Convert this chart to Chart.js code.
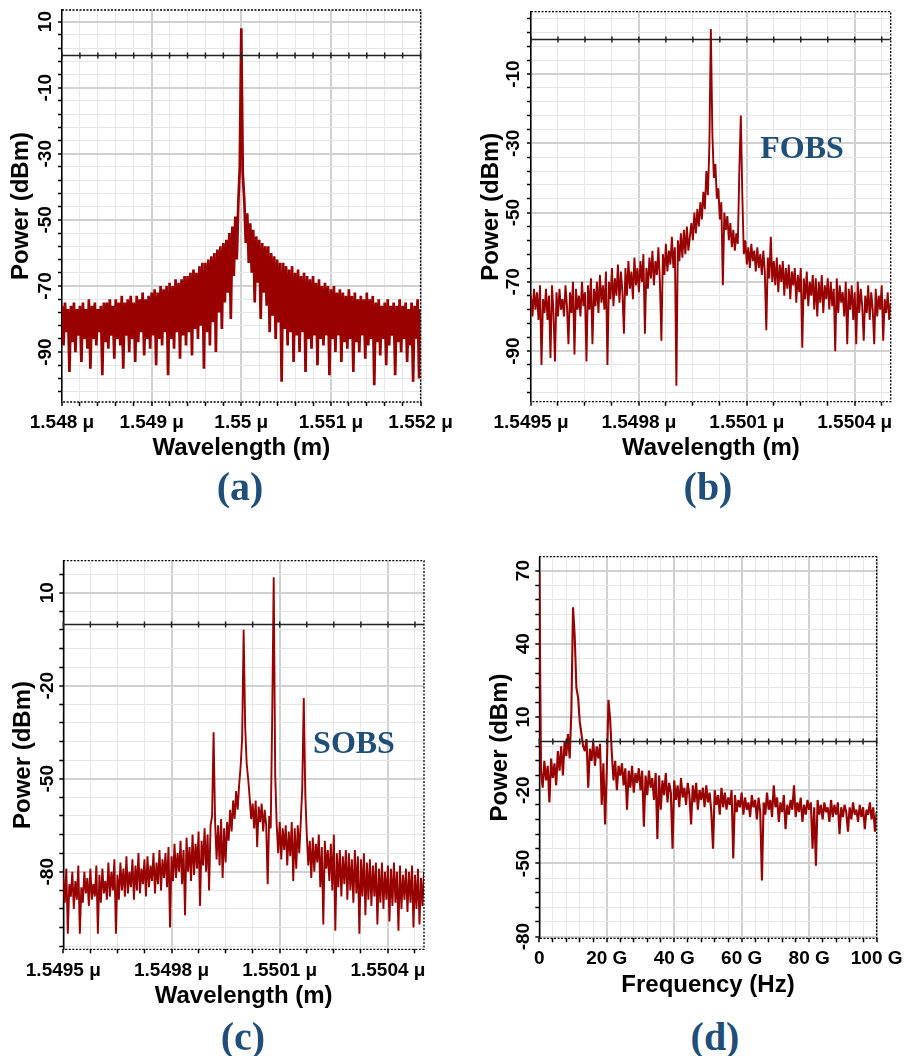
<!DOCTYPE html>
<html>
<head>
<meta charset="utf-8">
<title>Optical and RF spectra</title>
<script src="https://cdn.jsdelivr.net/npm/chart.js@4.4.1/dist/chart.umd.min.js"></script>
<style>
  html, body { margin: 0; padding: 0; background: #fff; }
  #page { position: relative; width: 909px; height: 1056px; overflow: hidden; }
  canvas { position: absolute; }
  .tag {
    position: absolute;
    transform: translate(-50%, -50%);
    font-family: "Liberation Serif", "Times New Roman", serif;
    font-weight: bold;
    color: #1f4e79;
    line-height: 1;
    white-space: nowrap;
  }
  .panel-tag { font-size: 40px; }
  .mode-tag { font-size: 32px; }
</style>
</head>
<body>
<div id="page">
  <canvas id="chartA" width="460" height="465" style="left:0;top:0"></canvas>
  <canvas id="chartB" width="449" height="465" style="left:460px;top:0"></canvas>
  <canvas id="chartC" width="460" height="475" style="left:0;top:540px"></canvas>
  <canvas id="chartD" width="449" height="465" style="left:460px;top:540px"></canvas>

  <div class="tag mode-tag" style="left:802px;top:147px">FOBS</div>
  <div class="tag mode-tag" style="left:354px;top:742px">SOBS</div>

  <div class="tag panel-tag" style="left:240px;top:487px">(a)</div>
  <div class="tag panel-tag" style="left:708px;top:487px">(b)</div>
  <div class="tag panel-tag" style="left:243px;top:1037px">(c)</div>
  <div class="tag panel-tag" style="left:715px;top:1037px">(d)</div>
</div>

<script>
// ===== SPECTRA (dBm), evenly sampled over each span =====

// (a) single laser line, 1.548 - 1.552 um
const spanA = [1.548, 1.552];
const powerA = [
  -76,-88,-75,-84,-77,-96,-76,-87,-75,-90,
  -77,-85,-76,-93,-75,-86,-77,-89,-74,-95,
  -76,-86,-75,-88,-77,-84,-76,-97,-75,-87,
  -75,-89,-74,-85,-76,-92,-74,-86,-75,-88,
  -73,-95,-75,-85,-74,-90,-73,-86,-75,-93,
  -73,-87,-74,-84,-72,-91,-74,-86,-73,-89,
  -72,-85,-71,-94,-72,-86,-70,-88,-71,-84,
  -70,-97,-69,-86,-70,-89,-68,-84,-69,-92,
  -68,-85,-67,-88,-67,-84,-66,-91,-65,-83,
  -66,-86,-64,-82,-63,-95,-63,-84,-62,-88,
  -61,-81,-60,-90,-59,-78,-58,-83,-57,-75,
  -56,-72,-54,-80,-52,-67,-49,-62,-45,-34,
  8,
  -36,-44,-57,-48,-63,-51,-66,-53,-75,-55,
  -69,-56,-80,-57,-72,-58,-76,-58,-84,-60,
  -79,-61,-86,-62,-81,-63,-99,-63,-83,-64,
  -88,-65,-84,-64,-93,-66,-85,-65,-90,-67,
  -84,-66,-96,-67,-86,-68,-89,-67,-85,-69,
  -94,-68,-86,-70,-88,-69,-85,-70,-97,-71,
  -86,-70,-90,-72,-85,-71,-93,-72,-87,-73,
  -89,-71,-86,-73,-96,-72,-87,-74,-90,-73,
  -85,-74,-92,-72,-88,-74,-86,-73,-100,-75,
  -87,-74,-91,-76,-86,-75,-94,-74,-88,-76,
  -85,-75,-97,-76,-87,-74,-90,-76,-86,-75,
  -93,-77,-88,-75,-99,-76,-86,-74,-98,-77
];

// (b) FOBS: carrier plus first-order sideband, 1.5495 - 1.5505 um
const spanB = [1.5495, 1.5505];
const powerB = [
  -74,-80,-72,-78,-73,-81,-71,-94,-75,-79,
  -72,-81,-74,-92,-71,-79,-93,-73,-80,-72,
  -78,-75,-80,-71,-77,-88,-73,-79,-70,-91,
  -72,-78,-74,-80,-70,-77,-73,-93,-71,-78,
  -69,-88,-72,-77,-70,-79,-68,-76,-71,-78,
  -67,-94,-70,-75,-66,-77,-69,-74,-65,-76,
  -67,-73,-85,-66,-74,-64,-72,-67,-75,-63,
  -71,-66,-73,-64,-70,-62,-85,-66,-72,-63,
  -69,-61,-71,-64,-68,-60,-70,-87,-62,-68,
  -59,-67,-61,-65,-57,-66,-60,-100,-58,-64,
  -56,-63,-55,-62,-54,-61,-57,-53,-58,-50,
  -56,-49,-54,-47,-52,-44,-49,-38,-45,-31,
  3,
  -27,-40,-36,-46,-43,-52,-47,-71,-50,-55,
  -51,-58,-53,-60,-55,-61,-56,-59,-38,-22,
  -45,-62,-58,-65,-60,-66,-59,-64,-61,-67,
  -60,-66,-62,-68,-61,-67,-84,-63,-69,-57,
  -70,-64,-71,-63,-73,-65,-70,-64,-74,-66,
  -72,-65,-75,-67,-71,-66,-76,-68,-73,-66,
  -89,-69,-75,-67,-77,-70,-74,-68,-78,-69,
  -80,-70,-76,-68,-79,-71,-75,-69,-78,-70,
  -77,-72,-90,-69,-79,-71,-76,-73,-80,-70,
  -88,-72,-78,-71,-81,-73,-88,-70,-79,-72,
  -77,-87,-74,-79,-71,-81,-73,-78,-88,-72,
  -80,-74,-78,-71,-87,-75,-79,-73,-81,-76
];

// (c) SOBS: carrier plus second-order sidebands, same span as (b)
const spanC = [1.5495, 1.5505];
const powerC = [
  -82,-90,-79,-100,-84,-88,-80,-92,-83,-89,
  -78,-100,-85,-90,-80,-87,-82,-91,-79,-89,
  -84,-88,-78,-100,-81,-90,-79,-87,-83,-89,
  -77,-88,-80,-86,-76,-100,-81,-89,-77,-86,
  -79,-88,-75,-87,-80,-85,-76,-89,-78,-86,
  -74,-87,-79,-84,-76,-88,-75,-85,-78,-83,
  -74,-87,-77,-84,-73,-86,-76,-82,-74,-85,
  -72,-98,-75,-83,-71,-82,-74,-80,-70,-84,
  -73,-94,-69,-80,-72,-83,-68,-81,-71,-79,
  -67,-91,-70,-78,-66,-80,-68,-86,-65,-62,
  -35,-64,-76,-65,-78,-63,-82,-66,-77,-64,
  -70,-60,-67,-57,-63,-54,-60,-52,-46,-37,
  -2,-33,-45,-50,-56,-63,-58,-66,-57,-72,
  -59,-64,-58,-67,-60,-65,-84,-62,-66,-30,
  15,-49,-65,-74,-64,-76,-66,-73,-65,-78,
  -67,-75,-64,-83,-66,-79,-65,-74,-64,-53,
  -24,-55,-68,-78,-70,-82,-69,-80,-71,-77,
  -68,-85,-72,-97,-70,-79,-73,-83,-71,-86,
  -68,-99,-74,-85,-73,-88,-75,-84,-73,-89,
  -74,-86,-76,-90,-73,-87,-75,-100,-76,-88,
  -74,-94,-77,-89,-76,-91,-78,-88,-77,-97,
  -79,-90,-77,-92,-80,-89,-78,-96,-79,-91,
  -77,-90,-80,-99,-78,-92,-81,-89,-79,-93,
  -80,-90,-78,-98,-81,-92,-79,-97,-82,-91,
  -80
];

// (d) detected RF spectrum, 0 - 100 GHz
const spanD = [0, 100];
const powerD = [
  69,-12,-19,-8,-16,-10,-25,-7,-15,-9,
  -18,-4,-12,-2,-14,0,-6,3,-7,12,
  55,43,22,18,8,3,-2,-4,1,-19,
  -3,-8,0,-10,-2,-7,-1,-26,-9,-34,
  -12,17,9,-5,-16,-8,-20,-10,-14,-9,
  -18,-11,-28,-12,-19,-10,-21,-13,-17,-11,
  -20,-12,-35,-14,-22,-12,-19,-15,-24,-13,
  -40,-14,-28,-16,-22,-13,-25,-17,-21,-44,
  -16,-24,-18,-27,-15,-23,-19,-26,-17,-22,
  -34,-18,-25,-17,-28,-20,-24,-19,-27,-18,
  -25,-21,-29,-44,-20,-26,-22,-30,-19,-27,
  -21,-28,-23,-26,-20,-48,-22,-29,-24,-27,
  -21,-30,-23,-28,-25,-31,-22,-27,-24,-32,
  -23,-29,-57,-25,-30,-21,-28,-24,-31,-18,
  -27,-23,-33,-25,-29,-22,-36,-26,-30,-24,
  -28,-18,-31,-25,-29,-23,-33,-26,-30,-24,
  -28,-25,-44,-27,-51,-24,-30,-26,-32,-25,
  -29,-27,-33,-24,-31,-26,-30,-25,-38,-27,
  -31,-26,-29,-37,-27,-32,-25,-30,-28,-33,
  -26,-31,-27,-36,-28,-30,-25,-32,-27,-37,
  -29
];

// ===== AXIS TICKS =====
const xMajorA = [1.548, 1.549, 1.55, 1.551, 1.552];
const xLabelsA = ['1.548 μ', '1.549 μ', '1.55 μ', '1.551 μ', '1.552 μ'];
const xMajorBC = [1.5495, 1.5498, 1.5501, 1.5504];
const xLabelsBC = ['1.5495 μ', '1.5498 μ', '1.5501 μ', '1.5504 μ'];
const xMajorD = [0, 20, 40, 60, 80, 100];
const xLabelsD = ['0', '20 G', '40 G', '60 G', '80 G', '100 G'];

const yMajorAB = [10, -10, -30, -50, -70, -90];
const yMajorC = [10, -20, -50, -80];
const yMajorD = [70, 40, 10, -20, -50, -80];

// ===== STYLE =====
const TRACE = '#990000';
const SANS = '"Liberation Sans", Arial, sans-serif';
const tickFont = { family: SANS, size: 19, weight: 'bold', lineHeight: 1 };
const titleFont = { family: SANS, size: 24, weight: 'bold', lineHeight: 1 };

// major ticks + minor subdivisions inside [min, max]
function tickValues(base, step, min, max) {
  const out = [];
  const k0 = Math.ceil((min - base) / step - 1e-6);
  const k1 = Math.floor((max - base) / step + 1e-6);
  for (let k = k0; k <= k1; k++) out.push(+(base + k * step).toFixed(9));
  return out;
}

// dotted top/right/bottom frame and the solid 0 dBm line with its tick marks
const frameAndZero = {
  id: 'frameAndZero',
  afterDatasetsDraw(chart) {
    const { ctx, chartArea: a, scales: { x, y } } = chart;
    ctx.save();
    ctx.strokeStyle = '#000';
    ctx.lineWidth = 1.3;
    ctx.setLineDash([2, 1.5]);
    ctx.beginPath();
    ctx.moveTo(a.left, a.top);
    ctx.lineTo(a.right, a.top);
    ctx.lineTo(a.right, a.bottom);
    ctx.lineTo(a.left, a.bottom);
    ctx.stroke();

    ctx.setLineDash([]);
    ctx.strokeStyle = '#222';
    ctx.lineWidth = 1.5;
    const y0 = Math.round(y.getPixelForValue(0)) + 0.5;
    ctx.beginPath();
    ctx.moveTo(a.left, y0);
    ctx.lineTo(a.right, y0);
    x.ticks.forEach(t => {
      const px = x.getPixelForValue(t.value);
      ctx.moveTo(px, y0 - 3);
      ctx.lineTo(px, y0 + 3);
    });
    ctx.stroke();
    ctx.restore();
  }
};

function buildChart(p) {
  const xTicks = tickValues(p.xMajor[0], p.xStep, p.xMin, p.xMax);
  const yTicks = tickValues(p.yMajor[0], p.yStep, p.yMin, p.yMax);
  const dx = (p.span[1] - p.span[0]) / (p.power.length - 1);
  const points = p.power.map((v, i) => ({ x: p.span[0] + i * dx, y: v }));

  const xIndex = v => p.xMajor.findIndex(m => Math.abs(m - v) < p.xStep * 1e-3);
  const xIsMajor = v => xIndex(v) >= 0;
  const yIsMajor = v => p.yMajor.some(m => Math.abs(m - v) < p.yStep * 1e-3);

  const gridStyle = isMajor => ({
    color: c => (c.tick && isMajor(c.tick.value)) ? '#d0d0d0' : '#e6e6e6',
    lineWidth: c => (c.tick && isMajor(c.tick.value)) ? 2 : 1,
    drawTicks: true,
    tickLength: 4,
    tickColor: '#000',
    tickWidth: 1.5
  });

  return new Chart(document.getElementById(p.id), {
    type: 'line',
    data: {
      datasets: [{
        data: points,
        borderColor: TRACE,
        borderWidth: p.lineWidth,
        borderJoinStyle: 'bevel',
        pointRadius: 0,
        tension: 0,
        fill: false
      }]
    },
    options: {
      responsive: false,
      animation: false,
      devicePixelRatio: 1,
      layout: { padding: { top: p.box.top, right: p.box.right, left: 0, bottom: 0 } },
      plugins: { legend: { display: false }, tooltip: { enabled: false } },
      scales: {
        x: {
          type: 'linear',
          min: p.xMin,
          max: p.xMax,
          afterBuildTicks: s => { s.ticks = xTicks.map(v => ({ value: v })); },
          afterFit: s => { s.height = p.box.xHeight; },
          ticks: {
            autoSkip: false,
            maxRotation: 0,
            padding: p.box.xTickPad,
            color: '#000',
            font: tickFont,
            callback: v => { const k = xIndex(v); return k >= 0 ? p.xLabels[k] : ''; }
          },
          grid: gridStyle(xIsMajor),
          border: { display: false },
          title: {
            display: true, text: p.xTitle, color: '#000', font: titleFont,
            padding: { top: 0, bottom: p.box.xTitlePad }
          }
        },
        y: {
          type: 'linear',
          min: p.yMin,
          max: p.yMax,
          afterBuildTicks: s => { s.ticks = yTicks.map(v => ({ value: v })); },
          afterFit: s => { s.width = p.box.yWidth; },
          ticks: {
            autoSkip: false,
            minRotation: 90,
            maxRotation: 90,
            crossAlign: 'center',
            padding: p.box.yTickPad,
            color: '#000',
            font: tickFont,
            callback: v => yIsMajor(v) ? String(Math.round(v)) : ''
          },
          grid: gridStyle(yIsMajor),
          border: { color: '#000', width: 1.5 },
          title: {
            display: true, text: 'Power (dBm)', color: '#000', font: titleFont,
            padding: { top: p.box.yTitlePad, bottom: 0 }
          }
        }
      }
    },
    plugins: [frameAndZero]
  });
}

const panels = [
  {
    id: 'chartA', span: spanA, power: powerA, lineWidth: 2.7,
    xMin: 1.548, xMax: 1.552, xStep: 0.0002, xMajor: xMajorA, xLabels: xLabelsA, xTitle: 'Wavelength (m)',
    yMin: -105.1, yMax: 13.5, yStep: 4, yMajor: yMajorAB,
    box: { yWidth: 62, xHeight: 63, top: 10, right: 36, xTickPad: 7.2, xTitlePad: 5, yTickPad: -1.5, yTitlePad: 9.7 }
  },
  {
    id: 'chartB', span: spanB, power: powerB, lineWidth: 1.9,
    xMin: 1.5495, xMax: 1.5505, xStep: 0.000075, xMajor: xMajorBC, xLabels: xLabelsBC, xTitle: 'Wavelength (m)',
    yMin: -104.6, yMax: 8, yStep: 4, yMajor: yMajorAB,
    box: { yWidth: 71, xHeight: 63.3, top: 11.7, right: 18.3, xTickPad: 7.5, xTitlePad: 4.7, yTickPad: -0.8, yTitlePad: 19.7 }
  },
  {
    id: 'chartC', span: spanC, power: powerC, lineWidth: 1.9,
    xMin: 1.5495, xMax: 1.5505, xStep: 0.000075, xMajor: xMajorBC, xLabels: xLabelsBC, xTitle: 'Wavelength (m)',
    yMin: -105, yMax: 20.3, yStep: 6, yMajor: yMajorC,
    box: { yWidth: 63.3, xHeight: 65.7, top: 20.7, right: 36, xTickPad: 7.9, xTitlePad: 6.3, yTickPad: -1.9, yTitlePad: 11.3 }
  },
  {
    id: 'chartD', span: spanD, power: powerD, lineWidth: 2.1,
    xMin: 0, xMax: 100, xStep: 4, xMajor: xMajorD, xLabels: xLabelsD, xTitle: 'Frequency (Hz)',
    yMin: -80.7, yMax: 75.7, yStep: 6, yMajor: yMajorD,
    box: { yWidth: 79.3, xHeight: 66.7, top: 16.7, right: 28.3, xTickPad: 6.5, xTitlePad: 8, yTickPad: -2.5, yTitlePad: 28 }
  }
];

panels.forEach(buildChart);
</script>
</body>
</html>
